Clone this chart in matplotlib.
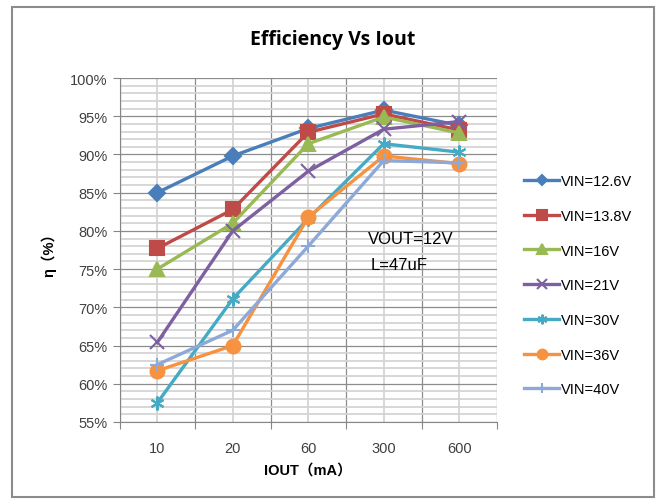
import matplotlib
matplotlib.use("Agg")
import matplotlib.pyplot as plt
from matplotlib.patches import Rectangle
from matplotlib.ticker import MultipleLocator, FixedLocator, FixedFormatter, PercentFormatter

plt.rcParams['font.family'] = ['Liberation Sans', 'Noto Sans CJK SC', 'DejaVu Sans']

## data
iout_labels = ["10", "20", "60", "300", "600"]
series_names = ["VIN=12.6V", "VIN=13.8V", "VIN=16V", "VIN=21V", "VIN=30V", "VIN=36V", "VIN=40V"]
eff_126 = [85.0, 89.8, 93.4, 95.8, 93.8]
eff_138 = [77.7, 82.8, 92.9, 95.3, 93.2]
eff_16 = [75.0, 81.0, 91.4, 94.9, 92.8]
eff_21 = [65.4, 80.0, 87.8, 93.3, 94.3]
eff_30 = [57.5, 71.1, 81.6, 91.4, 90.3]
eff_36 = [61.7, 65.0, 81.8, 89.8, 88.8]
eff_40 = [62.5, 67.0, 78.0, 89.2, 88.9]
all_eff = [eff_126, eff_138, eff_16, eff_21, eff_30, eff_36, eff_40]

colors = ["#4A7EBB", "#BE4B48", "#98B954", "#7D60A0", "#46AAC5", "#F69240", "#8DA9D8"]
markers = ["D", "s", "^", "x", (6, 2, 0), "o", "+"]
msizes = [8, 10, 10, 10, 10, 10, 10]

fig = plt.figure(figsize=(6.59, 5.02), dpi=100)
ax = fig.add_axes([119.5 / 659, 1 - 423 / 502, (497 - 119.5) / 659, (423 - 79) / 502])

x = list(range(len(iout_labels)))
for name, vals, c, m, ms in zip(series_names, all_eff, colors, markers, msizes):
    ax.plot(x, [v / 100 for v in vals], color=c, lw=2.4, marker=m, ms=ms,
            mew=1.5, label=name, zorder=3)

ax.set_xlim(-0.5, 4.5)
ax.set_ylim(0.55, 1.0)

# y axis: majors every 5%, minors every 1%
ax.yaxis.set_major_locator(MultipleLocator(0.05))
ax.yaxis.set_minor_locator(MultipleLocator(0.01))
ax.yaxis.set_major_formatter(PercentFormatter(1.0, decimals=0))
ax.tick_params(axis="y", which="major", length=5, color="#868686", labelsize=10.5, colors="#404040")
ax.tick_params(axis="y", which="minor", length=0)

# x axis: ticks on category edges, labels in between
ax.xaxis.set_major_locator(FixedLocator([i - 0.5 for i in range(6)]))
ax.xaxis.set_major_formatter(FixedFormatter([""] * 6))
ax.xaxis.set_minor_locator(FixedLocator(x))
ax.xaxis.set_minor_formatter(FixedFormatter(iout_labels))
ax.tick_params(axis="x", which="major", length=5, color="#868686")
ax.tick_params(axis="x", which="minor", length=0, labelsize=10.5, labelcolor="#404040", pad=14)

ax.grid(True, which="major", color="#8C8C8C", lw=0.9, zorder=0)
ax.grid(True, which="minor", color="#D4D4D4", lw=1.3, zorder=0)
ax.set_axisbelow(True)

for s in ["top", "right"]:
    ax.spines[s].set_visible(False)
for s in ["left", "bottom"]:
    ax.spines[s].set_color("#868686")

ax.set_ylabel("η（%）", fontsize=10.5, fontweight="bold", labelpad=10)
ax.set_xlabel("IOUT（mA）", fontsize=10.5, fontweight="bold", labelpad=5)

fig.text(333 / 659, 1 - 40 / 502, "Efficiency Vs Iout", ha="center", va="center",
         fontsize=14, fontweight="bold", family=["Open Sans", "DejaVu Sans"])

ax.text(368 / 659, 1 - 240 / 502, "VOUT=12V", transform=fig.transFigure,
        fontsize=12, va="center", ha="left")
ax.text(371 / 659, 1 - 266 / 502, "L=47uF", transform=fig.transFigure,
        fontsize=12, va="center", ha="left")

leg = ax.legend(loc="upper left", bbox_to_anchor=(511 / 659, 1 - 162 / 502),
                bbox_transform=fig.transFigure, frameon=False, fontsize=10.5,
                handlelength=2.4, handletextpad=0.1, labelspacing=1.42, markerscale=0.7)

fig.patches.append(Rectangle((12 / 659, 1 - 498 / 502), (654 - 12) / 659, (498 - 8) / 502,
                             transform=fig.transFigure, fill=False, edgecolor="#8C8C8C", lw=1.5))

fig.savefig("out.png", dpi=100)
